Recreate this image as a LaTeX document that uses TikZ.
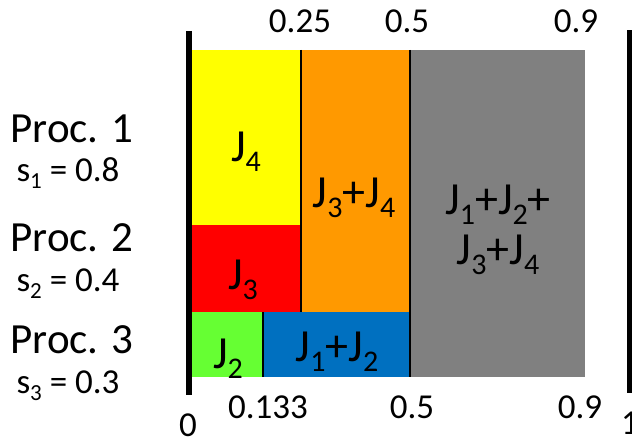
\documentclass[tikz,border=0pt]{standalone}
\usepackage{fontspec}
\setmainfont{Carlito}
\definecolor{cyel}{HTML}{FFFF00}
\definecolor{corg}{HTML}{FF9900}
\definecolor{cgry}{HTML}{808080}
\definecolor{cred}{HTML}{FF0000}
\definecolor{cgrn}{HTML}{66FF33}
\definecolor{cblu}{HTML}{0070C0}
\newcommand\sbs[1]{\raisebox{-0.2em}{\fontsize{30}{30}\selectfont #1}}
\newcommand\ssb[1]{\raisebox{-0.2em}{\fontsize{23}{23}\selectfont #1}}
\begin{document}
\begin{tikzpicture}[x=1pt,y=-1pt,
  jlab/.style={font=\fontsize{46}{50}\selectfont, inner sep=0pt, anchor=base},
  proc/.style={font=\fontsize{43}{46}\selectfont, inner sep=0pt, anchor=base},
  spd/.style={font=\fontsize{35}{36}\selectfont, inner sep=0pt, anchor=base},
  tick/.style={font=\fontsize{35}{36}\selectfont, inner sep=0pt, anchor=base},
  sep/.style={line width=2.5pt, black},
  axis/.style={line width=6pt, black}]
\useasboundingbox (0,0) rectangle (632,438);
% blocks
\fill[cyel] (191,50) rectangle (301,225);
\fill[cred] (191,225) rectangle (301,312);
\fill[corg] (301,50) rectangle (410,312);
\fill[cgry] (410,50) rectangle (585,377);
\fill[cgrn] (191,312) rectangle (263,377);
\fill[cblu] (263,312) rectangle (410,377);
\draw[sep] (301,50) -- (301,312);
\draw[sep] (410,50) -- (410,377);
\draw[sep] (263,312) -- (263,377);
% axes
\draw[axis] (188.5,31) -- (188.5,395);
\draw[axis] (630,30) -- (630,393);
% job labels
\node[jlab] (j4) at (246,162) {J\sbs{4}};
\node[jlab] (j3) at (243,290) {J\sbs{3}};
\node[jlab] (j34) at (354,208) {J\sbs{3}+J\sbs{4}};
\node[jlab] (jall1) at (498,215) {J\sbs{1}+J\sbs{2}+};
\node[jlab] (jall2) at (498,265) {J\sbs{3}+J\sbs{4}};
\node[jlab] (j2) at (228,369) {J\sbs{2}};
\node[jlab] (j12) at (337,362) {J\sbs{1}+J\sbs{2}};
% processor labels
\node[proc] (p1) at (72,143) {Proc. 1};
\node[spd] (s1) at (68,182) {s\ssb{1} = 0.8};
\node[proc] (p2) at (72,252) {Proc. 2};
\node[spd] (s2) at (68,292) {s\ssb{2} = 0.4};
\node[proc] (p3) at (72,353) {Proc. 3};
\node[spd] (s3) at (68,393) {s\ssb{3} = 0.3};
% ticks
\node[tick] (t1) at (300,33) {0.25};
\node[tick] (t2) at (407,33) {0.5};
\node[tick] (t3) at (576,33) {0.9};
\node[tick] (b1) at (268,418) {0.133};
\node[tick] (b2) at (412,418) {0.5};
\node[tick] (b3) at (580,418) {0.9};
\node[tick] (b0) at (188,436) {0};
\node[tick] (b4) at (630,434) {1};
\end{tikzpicture}
\end{document}
